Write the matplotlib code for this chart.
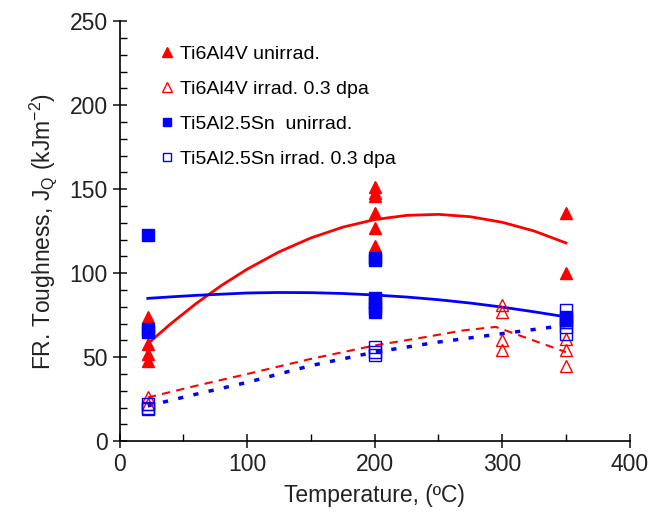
import matplotlib
matplotlib.use("Agg")
import matplotlib.pyplot as plt
from matplotlib.ticker import MultipleLocator

plt.rcParams['font.family'] = ['Liberation Sans', 'DejaVu Sans']
plt.rcParams['mathtext.default'] = 'regular'

# measured points (x = temperature, y = J_Q)
v_unirr_x = [22, 22, 22, 22, 22, 200, 200, 200, 200, 200, 200, 200, 350, 350]
v_unirr_y = [74, 70, 58, 52, 48, 151, 148, 146, 136, 127, 116, 113, 136, 100]

v_irr_x = [22, 22, 300, 300, 300, 300, 350, 350, 350]
v_irr_y = [26, 22, 81, 77, 60, 54, 61, 54, 45]

sn_unirr_x = [22, 22, 22, 200, 200, 200, 200, 200, 200, 350, 350]
sn_unirr_y = [123, 67, 65, 109, 108, 85, 82, 79, 77, 74, 72]

sn_irr_x = [22, 22, 22, 200, 200, 200, 350, 350, 350, 350]
sn_irr_y = [22, 20, 19, 56, 53, 51, 78, 71, 68, 64]

# trend curves
curve_x = [22, 40, 60, 80, 100, 125, 150, 175, 200, 225, 250, 275, 300, 325, 350]
v_unirr_fit = [58, 69.9, 82, 92.8, 102.4, 112.7, 121, 127.4, 131.9, 134.4,
               135, 133.6, 130.3, 125.1, 118]
sn_unirr_fit = [85, 85.9, 86.8, 87.5, 88.2, 88.5, 88.4, 87.9, 87, 85.8,
                84.2, 82.2, 79.8, 77, 74]

v_irr_fit_x = [22, 60, 100, 150, 200, 240, 270, 295, 350]
v_irr_fit = [26, 33, 40, 49, 57, 62, 66, 68, 53]

sn_irr_fit_x = [22, 60, 100, 150, 200, 250, 300, 350]
sn_irr_fit = [21, 28, 35, 45, 53, 59, 64, 69]

fig = plt.figure(figsize=(6.58, 5.16), dpi=100)
ax = fig.add_axes([0.182, 0.145, 0.775, 0.814])

ax.plot(curve_x, v_unirr_fit, color='red', lw=2)
ax.plot(curve_x, sn_unirr_fit, color='blue', lw=2)
ax.plot(v_irr_fit_x, v_irr_fit, color='red', lw=1.5, ls=(0, (4, 3)))
ax.plot(sn_irr_fit_x, sn_irr_fit, color='blue', lw=2.5, ls=(0, (1.5, 3)))

ax.plot(v_unirr_x, v_unirr_y, '^', color='red', ms=9, ls='none',
        label='Ti6Al4V unirrad.')
ax.plot(v_irr_x, v_irr_y, '^', mfc='none', mec='red', mew=1, ms=9, ls='none',
        label='Ti6Al4V irrad. 0.3 dpa')
ax.plot(sn_unirr_x, sn_unirr_y, 's', color='blue', ms=8, ls='none',
        label='Ti5Al2.5Sn  unirrad.')
ax.plot(sn_irr_x, sn_irr_y, 's', mfc='none', mec='blue', mew=1, ms=8, ls='none',
        label='Ti5Al2.5Sn irrad. 0.3 dpa')

ax.set_xlim(0, 400)
ax.set_ylim(0, 250)
ax.xaxis.set_major_locator(MultipleLocator(100))
ax.xaxis.set_minor_locator(MultipleLocator(50))
ax.yaxis.set_major_locator(MultipleLocator(50))
ax.yaxis.set_minor_locator(MultipleLocator(10))
ax.tick_params(which='major', direction='inout', length=10, width=1.2,
               labelsize=16.5, colors='#222')
ax.tick_params(which='minor', direction='in', length=5, width=1)
for s in ['top', 'right']:
    ax.spines[s].set_visible(False)
for s in ['left', 'bottom']:
    ax.spines[s].set_linewidth(1.2)

ax.set_xlabel('Temperature, (ºC)', fontsize=16.5, color='#222', labelpad=6)
ax.set_ylabel('FR. Toughness, J$_Q$ (kJm$^{-2}$)', fontsize=16.5, color='#222',
              labelpad=8)

ax.legend(loc='upper left', bbox_to_anchor=(0.045, 0.985), frameon=False,
          fontsize=14, labelspacing=0.9, handlelength=0.7, handletextpad=0.3,
          markerscale=0.75)

fig.savefig('out.png', dpi=100)
